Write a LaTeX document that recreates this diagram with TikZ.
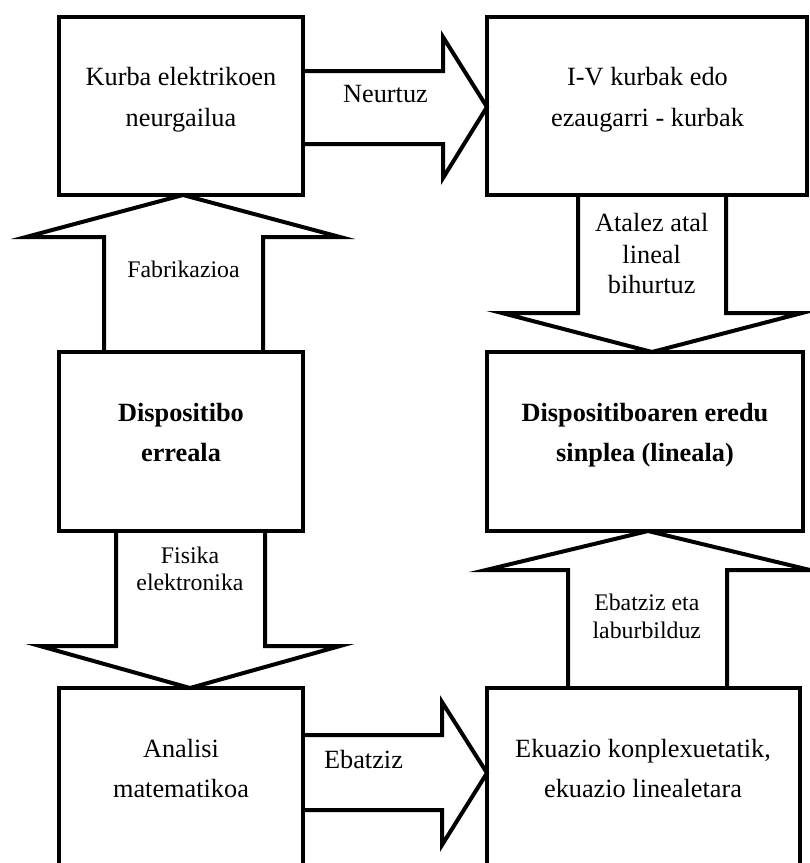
\documentclass[tikz,border=0pt]{standalone}
\usepackage{fontspec}
\setmainfont{Liberation Serif}
\begin{document}
\begin{tikzpicture}[x=1pt,y=-1pt,
  box/.style={draw=black, line width=4pt, inner sep=0pt, outer sep=0pt},
  fatarrow/.style={draw=black, line width=4pt, line join=miter, miter limit=12},
  boxtext/.style={anchor=base, inner sep=0pt, font=\fontsize{26.3}{30}\selectfont},
  boxbold/.style={boxtext, font=\fontsize{26.3}{30}\selectfont\bfseries},
  arrowtext/.style={anchor=base, inner sep=0pt, font=\fontsize{23.8}{27}\selectfont},
]
\useasboundingbox (0,0) rectangle (810,863);
\clip (0,0) rectangle (810,863);

% blocks
\node[box, minimum width=244pt, minimum height=178pt] (kurba) at (181,106) {};
\node[box, minimum width=320pt, minimum height=178pt] (iv)    at (647,106) {};
\node[box, minimum width=244pt, minimum height=179pt] (disp)  at (181,441.5) {};
\node[box, minimum width=316pt, minimum height=179pt] (eredu) at (645,441.5) {};
\node[box, minimum width=244pt, minimum height=200pt] (anal)  at (181,788) {};
\node[box, minimum width=313pt, minimum height=200pt] (ekuaz) at (643.5,788) {};

% block arrows
\draw[fatarrow] (kurba.east |- 0,71) -- (443,71) -- (443,37) -- (iv.west |- 0,107)
  -- (443,178) -- (443,144) -- (kurba.east |- 0,144);
\draw[fatarrow] (104,0 |- disp.north) -- (104,237) -- (26,237) -- (kurba.south -| 183,0)
  -- (340,237) -- (263,237) -- (263,0 |- disp.north);
\draw[fatarrow] (578,0 |- iv.south) -- (578,313) -- (502,313) -- (eredu.north -| 652,0)
  -- (802,313) -- (726,313) -- (726,0 |- iv.south);
\draw[fatarrow] (116,0 |- disp.south) -- (116,646) -- (40,646) -- (anal.north -| 190,0)
  -- (340,646) -- (265,646) -- (265,0 |- disp.south);
\draw[fatarrow] (568,0 |- ekuaz.north) -- (568,570) -- (486,570) -- (eredu.south -| 648,0)
  -- (810,570) -- (727,570) -- (727,0 |- ekuaz.north);
\draw[fatarrow] (anal.east |- 0,735) -- (442,735) -- (442,702) -- (ekuaz.west |- 0,773)
  -- (442,845) -- (442,810) -- (anal.east |- 0,810);

% block texts, one node per line
\node[boxtext] (kurbaA) at (181,85)  {Kurba elektrikoen};
\node[boxtext] (kurbaB) at (181,126) {neurgailua};
\node[boxtext] (ivA)    at (647.5,85)  {I-V kurbak edo};
\node[boxtext] (ivB)    at (647.5,126) {ezaugarri - kurbak};
\node[boxbold] (dispA)  at (181,421) {Dispositibo};
\node[boxbold] (dispB)  at (181,461) {erreala};
\node[boxbold] (ereduA) at (645,421) {Dispositiboaren eredu};
\node[boxbold] (ereduB) at (645,461) {sinplea (lineala)};
\node[boxtext] (analA)  at (181,757) {Analisi};
\node[boxtext] (analB)  at (181,797) {matematikoa};
\node[boxtext] (ekuazA) at (643,757) {Ekuazio konplexuetatik,};
\node[boxtext] (ekuazB) at (643,797) {ekuazio linealetara};

% arrow labels
\node[boxtext]   (neurT)  at (385.5,102) {Neurtuz};
\node[boxtext]   (ebT)    at (363.5,768) {Ebatziz};
\node[arrowtext] (fabT)   at (183.5,277) {Fabrikazioa};
\node[arrowtext] (fisA)   at (190,563) {Fisika};
\node[arrowtext] (fisB)   at (190,590) {elektronika};
\node[boxtext]   (atalA)  at (651.7,231) {Atalez atal};
\node[boxtext]   (atalB)  at (651.7,263) {lineal};
\node[boxtext]   (atalC)  at (651.7,293) {bihurtuz};
\node[arrowtext] (ebetaA) at (646.8,610) {Ebatziz eta};
\node[arrowtext] (ebetaB) at (646.8,638) {laburbilduz};
\end{tikzpicture}
\end{document}
